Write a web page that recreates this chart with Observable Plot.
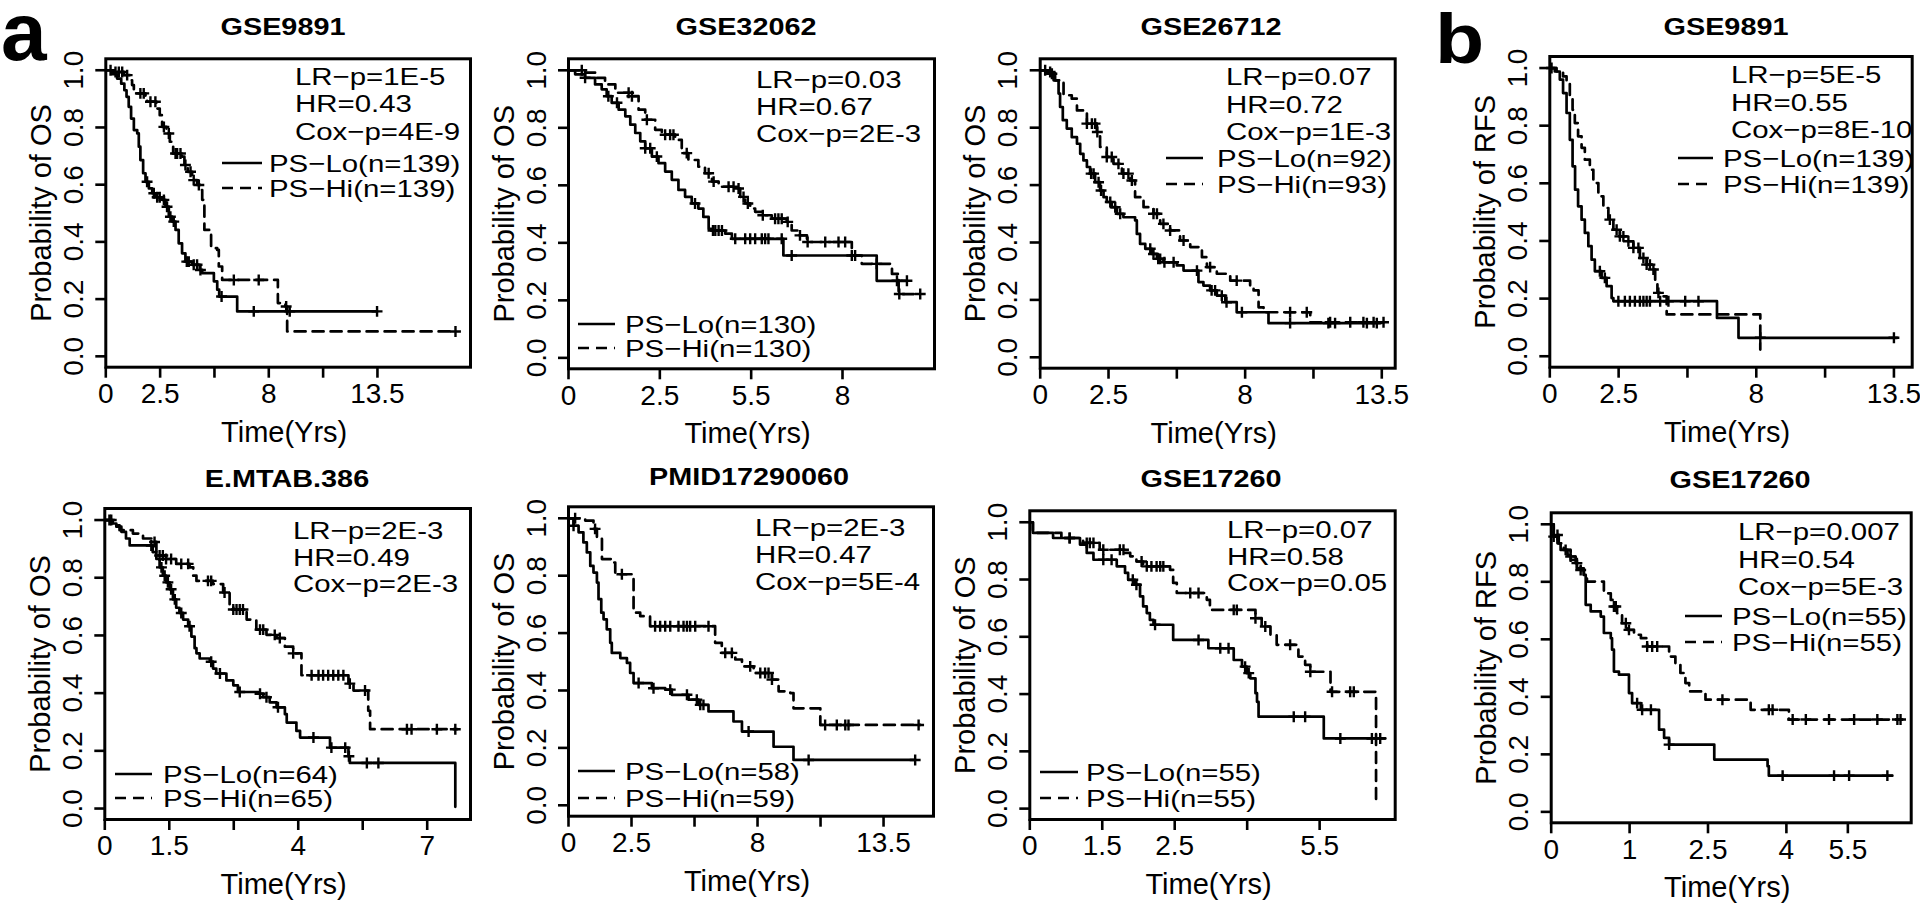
<!DOCTYPE html>
<html><head><meta charset="utf-8">
<script src="https://cdn.jsdelivr.net/npm/d3@7"></script>
<script src="https://cdn.jsdelivr.net/npm/@observablehq/plot@0.6"></script>
<style>
body{margin:0;background:#fff;}
#wrap{position:relative;width:1920px;height:909px;overflow:hidden;font-family:"Liberation Sans",Arial,Helvetica,sans-serif;color:#000;background:#fff;}
.panel{position:absolute;}
.panel svg{overflow:visible;background:transparent;}
.txt{position:absolute;white-space:nowrap;font-size:24.5px;line-height:27px;transform:scaleX(1.2);transform-origin:0 0;}
.ttl{position:absolute;width:400px;text-align:center;white-space:nowrap;font-weight:bold;font-size:24px;line-height:27px;transform:scaleX(1.2);}
.big{position:absolute;font-weight:bold;line-height:0.75;}
.samp{position:absolute;overflow:visible;}
</style></head><body><div id="wrap"></div>
<script>
// ---------- data (times in axis units, survival probability) ----------
const titles = ["GSE9891","GSE32062","GSE26712","GSE9891","E.MTAB.386","PMID17290060","GSE17260","GSE17260"];
const yLabels = ["Probability of OS","Probability of OS","Probability of OS","Probability of RFS","Probability of OS","Probability of OS","Probability of OS","Probability of RFS"];
const statTexts = [
  ["LR\u2212p=1E-5","HR=0.43","Cox\u2212p=4E-9"],
  ["LR\u2212p=0.03","HR=0.67","Cox\u2212p=2E-3"],
  ["LR\u2212p=0.07","HR=0.72","Cox\u2212p=1E-3"],
  ["LR\u2212p=5E-5","HR=0.55","Cox\u2212p=8E-10"],
  ["LR\u2212p=2E-3","HR=0.49","Cox\u2212p=2E-3"],
  ["LR\u2212p=2E-3","HR=0.47","Cox\u2212p=5E-4"],
  ["LR\u2212p=0.07","HR=0.58","Cox\u2212p=0.05"],
  ["LR\u2212p=0.007","HR=0.54","Cox\u2212p=5E-3"]
];
const legendTexts = [
  ["PS\u2212Lo(n=139)","PS\u2212Hi(n=139)"],
  ["PS\u2212Lo(n=130)","PS\u2212Hi(n=130)"],
  ["PS\u2212Lo(n=92)","PS\u2212Hi(n=93)"],
  ["PS\u2212Lo(n=139)","PS\u2212Hi(n=139)"],
  ["PS\u2212Lo(n=64)","PS\u2212Hi(n=65)"],
  ["PS\u2212Lo(n=58)","PS\u2212Hi(n=59)"],
  ["PS\u2212Lo(n=55)","PS\u2212Hi(n=55)"],
  ["PS\u2212Lo(n=55)","PS\u2212Hi(n=55)"]
];
const xTicks = [
  [0,2.75,5.5,8.25,11,13.75],
  [0,2.75,5.5,8.25],
  [0,2.75,5.5,8.25,11,13.75],
  [0,2.75,5.5,8.25,11,13.75],
  [0,1.4,2.8,4.2,5.6,7.0],
  [0,2.75,5.5,8.25,11,13.75],
  [0,1.4,2.8,4.2,5.6],
  [0,1.25,2.5,3.75,4.73]
];
const xTickLabels = [
  ["0","2.5","","8","","13.5"],
  ["0","2.5","5.5","8"],
  ["0","2.5","","8","","13.5"],
  ["0","2.5","","8","","13.5"],
  ["0","1.5","","4","","7"],
  ["0","2.5","","8","","13.5"],
  ["0","1.5","2.5","","5.5"],
  ["0","1","2.5","4","5.5"]
];
const xMax = [18.46, 11.02, 14.29, 14.48, 7.94, 15.93, 7.06, 5.74];

// Panel 1: GSE9891 OS
const p1Lo = [[0,1],[0.32,0.986],[0.57,0.971],[0.78,0.953],[0.94,0.930],[1.05,0.907],[1.16,0.872],[1.28,0.831],[1.42,0.791],[1.59,0.779],[1.67,0.733],[1.75,0.686],[1.89,0.640],[2.01,0.610],[2.18,0.587],[2.35,0.570],[2.56,0.556],[2.85,0.547],[3.02,0.523],[3.19,0.488],[3.36,0.471],[3.53,0.442],[3.69,0.395],[3.86,0.360],[4.03,0.331],[4.37,0.320],[4.76,0.302],[4.88,0.291],[5.47,0.262],[5.64,0.233],[5.74,0.209],[6.65,0.157],[13.73,0.157]];
const p1LoCens = [2.09,2.43,2.60,2.73,2.94,3.10,3.27,3.44,4.10,4.20,4.45,4.62,4.79,5.86,7.49,9.31,13.73];
const p1Hi = [[0,1],[0.40,0.994],[0.91,0.983],[1.25,0.965],[1.33,0.948],[1.42,0.919],[2.01,0.907],[2.09,0.890],[2.56,0.866],[2.73,0.843],[2.85,0.802],[3.07,0.779],[3.24,0.750],[3.41,0.709],[3.86,0.698],[3.98,0.669],[4.15,0.645],[4.37,0.616],[4.62,0.599],[4.79,0.581],[4.88,0.547],[4.99,0.442],[5.26,0.430],[5.33,0.378],[5.64,0.372],[5.72,0.314],[5.89,0.267],[8.71,0.186],[9.09,0.174],[9.18,0.087],[17.70,0.087]];
const p1HiCens = [0.24,0.49,0.66,0.83,1.08,1.75,1.92,2.26,2.51,2.94,3.19,3.53,3.61,3.78,4.03,4.29,4.45,4.71,6.48,7.74,9.13,17.70];

// Panel 2: GSE32062 OS
const p2Lo = [[0,1],[0.20,0.986],[0.50,0.974],[0.80,0.951],[1.00,0.934],[1.15,0.910],[1.30,0.887],[1.51,0.863],[1.71,0.840],[1.86,0.811],[2.01,0.782],[2.16,0.753],[2.31,0.729],[2.51,0.700],[2.71,0.677],[2.91,0.648],[3.11,0.619],[3.31,0.584],[3.51,0.560],[3.71,0.537],[3.91,0.519],[4.06,0.490],[4.22,0.449],[4.32,0.443],[4.72,0.432],[4.92,0.414],[6.47,0.356],[9.28,0.268],[10.19,0.268]];
const p2LoCens = [0.50,1.20,1.46,2.31,2.46,2.66,3.81,4.35,4.42,4.52,4.62,5.02,5.32,5.47,5.62,5.82,5.92,6.02,6.42,6.72,8.53,8.63,9.89,10.19];
const p2Hi = [[0,1],[0.50,0.992],[0.80,0.974],[1.10,0.951],[1.41,0.922],[1.91,0.910],[2.11,0.863],[2.31,0.828],[2.61,0.793],[2.81,0.776],[3.21,0.758],[3.41,0.712],[3.61,0.688],[3.91,0.665],[4.11,0.642],[4.32,0.613],[4.52,0.595],[5.02,0.589],[5.17,0.560],[5.32,0.537],[5.47,0.519],[5.62,0.508],[5.82,0.496],[6.12,0.484],[6.57,0.473],[6.72,0.443],[6.92,0.426],[7.18,0.403],[8.53,0.356],[8.83,0.327],[9.74,0.292],[9.94,0.222],[10.59,0.222]];
const p2HiCens = [0.40,1.81,1.91,2.36,2.91,3.06,3.16,3.56,4.22,4.37,4.82,4.97,5.12,5.27,5.40,5.85,6.22,6.32,6.42,6.60,6.97,7.20,7.73,8.13,8.33,9.28,9.96,10.59];

// Panel 3: GSE26712 OS
const p3Lo = [[0,1],[0.27,0.988],[0.54,0.965],[0.74,0.919],[0.80,0.872],[0.91,0.826],[1.07,0.797],[1.27,0.767],[1.48,0.744],[1.61,0.709],[1.74,0.686],[1.88,0.663],[2.01,0.640],[2.21,0.610],[2.41,0.581],[2.55,0.558],[2.68,0.541],[2.88,0.523],[3.09,0.500],[3.35,0.488],[3.82,0.477],[3.89,0.430],[4.02,0.395],[4.23,0.378],[4.49,0.360],[4.70,0.343],[4.96,0.331],[5.50,0.320],[5.77,0.302],[6.37,0.262],[6.57,0.250],[6.84,0.233],[7.11,0.215],[7.45,0.192],[7.91,0.157],[9.19,0.119],[13.68,0.119]];
const p3LoCens = [0.20,0.47,2.05,2.15,2.35,2.45,2.82,3.02,3.22,4.43,4.56,4.75,4.83,5.00,5.37,6.31,6.90,7.04,7.31,7.50,8.12,10.06,11.60,11.87,13.15,13.55];
const p3Hi = [[0,1],[0.40,0.994],[0.60,0.965],[0.94,0.913],[1.27,0.901],[1.48,0.860],[1.88,0.814],[2.28,0.785],[2.41,0.733],[2.68,0.698],[2.95,0.674],[3.29,0.640],[3.62,0.616],[3.82,0.558],[4.16,0.523],[4.56,0.500],[4.83,0.465],[5.23,0.442],[5.63,0.407],[6.04,0.384],[6.51,0.349],[6.71,0.314],[7.11,0.291],[7.65,0.267],[8.45,0.250],[8.59,0.233],[8.79,0.174],[8.99,0.157],[10.87,0.122],[13.82,0.122]];
const p3HiCens = [0.40,1.88,2.08,2.21,2.30,2.68,2.88,3.15,3.35,3.55,3.69,4.56,4.70,4.96,5.23,5.77,6.84,7.91,10.06,10.73,11.67,12.48,13.01,13.42,13.82];

// Panel 4: GSE9891 RFS
const p4Lo = [[0,1],[0.20,0.988],[0.40,0.960],[0.53,0.913],[0.67,0.844],[0.80,0.751],[0.91,0.659],[1.01,0.578],[1.13,0.520],[1.27,0.474],[1.40,0.428],[1.54,0.382],[1.67,0.335],[1.80,0.295],[2.07,0.272],[2.27,0.243],[2.47,0.202],[2.54,0.191],[6.68,0.133],[7.54,0.064],[13.88,0.064]];
const p4LoCens = [0.07,2.00,2.20,2.74,3.00,3.20,3.40,3.60,3.74,3.87,4.00,4.41,4.74,5.41,5.94,8.41,13.75];
const p4Hi = [[0,1],[0.27,0.988],[0.53,0.971],[0.67,0.948],[0.80,0.902],[0.91,0.855],[1.00,0.809],[1.13,0.763],[1.27,0.723],[1.40,0.682],[1.60,0.647],[1.74,0.601],[1.94,0.555],[2.14,0.514],[2.34,0.474],[2.54,0.439],[2.80,0.416],[3.07,0.399],[3.34,0.376],[3.60,0.341],[3.87,0.318],[4.14,0.301],[4.21,0.254],[4.30,0.220],[4.41,0.208],[4.67,0.145],[8.41,0.023]];
const p4HiCens = [2.40,2.67,2.80,2.94,3.14,3.34,3.54,3.74,3.87,4.00,4.14,4.34];

// Panel 5: E.MTAB.386 OS
const p5Lo = [[0,1],[0.14,0.988],[0.25,0.977],[0.36,0.959],[0.46,0.936],[0.54,0.912],[1.04,0.889],[1.12,0.865],[1.19,0.836],[1.26,0.807],[1.33,0.784],[1.41,0.760],[1.48,0.725],[1.55,0.696],[1.62,0.678],[1.70,0.655],[1.81,0.632],[1.88,0.596],[1.95,0.556],[1.99,0.538],[2.06,0.520],[2.28,0.509],[2.35,0.485],[2.42,0.468],[2.64,0.444],[2.79,0.427],[2.89,0.404],[3.33,0.398],[3.44,0.386],[3.58,0.368],[3.73,0.351],[3.91,0.327],[3.95,0.298],[4.16,0.269],[4.24,0.246],[4.89,0.211],[5.29,0.181],[5.32,0.158],[7.61,0.006]];
const p5LoCens = [0.10,1.01,1.23,1.30,1.37,1.44,1.52,1.66,1.84,2.31,2.50,2.93,3.37,3.51,3.76,4.53,4.92,5.22,5.30,5.69,5.94];
const p5Hi = [[0,1],[0.17,0.982],[0.32,0.965],[0.61,0.953],[0.83,0.936],[1.04,0.924],[1.12,0.889],[1.19,0.877],[1.33,0.865],[1.55,0.848],[1.84,0.836],[1.92,0.807],[1.99,0.789],[2.35,0.778],[2.57,0.749],[2.71,0.702],[2.79,0.690],[3.08,0.655],[3.29,0.620],[3.51,0.602],[3.73,0.591],[3.91,0.561],[4.09,0.538],[4.27,0.462],[5.29,0.433],[5.40,0.409],[5.72,0.339],[5.76,0.275],[7.65,0.275]];
const p5HiCens = [0.14,1.08,1.19,1.26,1.33,1.44,1.66,1.81,2.24,2.31,2.60,2.79,2.86,2.93,3.00,3.37,3.44,3.69,3.80,4.09,4.49,4.64,4.74,4.85,4.96,5.07,5.18,5.32,5.65,6.56,6.66,7.21,7.61];

// Panel 6: PMID17290060 OS
const p6Lo = [[0,1],[0.22,0.974],[0.44,0.951],[0.65,0.916],[0.80,0.881],[0.95,0.834],[1.09,0.811],[1.24,0.776],[1.31,0.718],[1.43,0.671],[1.53,0.648],[1.67,0.613],[1.82,0.566],[1.89,0.531],[2.26,0.513],[2.55,0.496],[2.69,0.461],[2.84,0.426],[3.64,0.408],[4.22,0.403],[4.51,0.385],[5.24,0.368],[5.67,0.350],[6.11,0.327],[7.20,0.292],[7.57,0.257],[8.95,0.204],[9.82,0.158],[15.13,0.158]];
const p6LoCens = [0.22,3.06,3.71,4.44,5.17,5.60,5.75,5.89,7.86,10.48,15.13];
const p6Hi = [[0,1],[0.73,0.992],[1.09,0.963],[1.24,0.928],[1.46,0.858],[1.89,0.846],[2.04,0.805],[2.76,0.799],[2.84,0.671],[3.13,0.659],[3.56,0.624],[6.40,0.566],[6.69,0.531],[7.28,0.508],[7.57,0.484],[8.08,0.461],[8.88,0.438],[9.17,0.397],[9.68,0.391],[9.82,0.338],[10.99,0.280],[15.35,0.280]];
const p6HiCens = [0.29,1.16,2.33,3.78,4.00,4.22,4.44,4.80,5.02,5.17,5.31,5.53,6.11,6.84,7.13,7.93,8.37,8.58,8.73,8.88,11.20,11.71,12.08,12.22,15.28];

// Panel 7: GSE17260 OS
const p7Lo = [[0,1],[0.06,0.963],[0.45,0.945],[0.97,0.922],[1.10,0.893],[1.23,0.869],[1.68,0.846],[1.84,0.823],[1.90,0.799],[2.03,0.782],[2.13,0.741],[2.19,0.706],[2.26,0.683],[2.32,0.659],[2.39,0.642],[2.77,0.589],[3.45,0.560],[3.94,0.519],[4.10,0.496],[4.19,0.473],[4.26,0.455],[4.36,0.403],[4.39,0.373],[4.42,0.321],[5.68,0.245],[6.87,0.245]];
const p7LoCens = [0.77,1.42,1.58,1.99,2.06,2.42,3.26,3.68,3.84,4.16,4.23,5.10,5.32,6.00,6.61,6.77];
const p7Hi = [[0,1],[0.06,0.963],[0.61,0.945],[1.03,0.928],[1.35,0.904],[1.84,0.893],[1.94,0.881],[2.06,0.863],[2.19,0.846],[2.71,0.834],[2.77,0.788],[2.84,0.753],[3.42,0.729],[3.48,0.694],[4.36,0.665],[4.48,0.636],[4.65,0.607],[4.77,0.572],[5.19,0.531],[5.32,0.502],[5.42,0.478],[5.81,0.408],[6.69,0.023]];
const p7HiCens = [0.77,1.10,1.16,1.23,1.42,1.74,1.81,2.16,2.26,2.35,2.45,2.52,2.58,3.10,3.26,3.94,4.00,4.36,4.55,5.03,5.42,5.84,6.19,6.26];

// Panel 8: GSE17260 RFS
const p8Lo = [[0,1],[0.04,0.957],[0.10,0.934],[0.15,0.911],[0.26,0.894],[0.31,0.876],[0.41,0.847],[0.52,0.824],[0.55,0.720],[0.63,0.697],[0.79,0.679],[0.84,0.622],[0.95,0.604],[0.97,0.564],[1.00,0.488],[1.08,0.477],[1.24,0.413],[1.29,0.378],[1.43,0.355],[1.72,0.286],[1.80,0.257],[1.88,0.234],[2.60,0.182],[3.45,0.159],[3.47,0.126],[5.44,0.126]];
const p8LoCens = [0.04,1.37,1.45,1.59,1.88,3.69,4.51,4.75,5.36];
const p8Hi = [[0,1],[0.04,0.963],[0.12,0.934],[0.20,0.911],[0.31,0.888],[0.39,0.865],[0.47,0.841],[0.52,0.818],[0.57,0.801],[0.84,0.760],[0.95,0.737],[1.00,0.714],[1.05,0.691],[1.13,0.656],[1.21,0.633],[1.32,0.616],[1.43,0.604],[1.53,0.575],[1.88,0.540],[1.98,0.517],[2.06,0.483],[2.14,0.448],[2.20,0.419],[2.46,0.390],[3.18,0.355],[3.79,0.321],[5.60,0.321]];
const p8HiCens = [0.10,0.23,0.31,0.41,0.47,1.00,1.03,1.19,1.24,1.53,1.61,1.69,2.73,3.47,3.53,3.85,4.06,4.43,4.83,5.20,5.52,5.57];

const yTicks = [0, 0.2, 0.4, 0.6, 0.8, 1.0];
const curvesLo = [p1Lo,p2Lo,p3Lo,p4Lo,p5Lo,p6Lo,p7Lo,p8Lo];
const censLo = [p1LoCens,p2LoCens,p3LoCens,p4LoCens,p5LoCens,p6LoCens,p7LoCens,p8LoCens];
const curvesHi = [p1Hi,p2Hi,p3Hi,p4Hi,p5Hi,p6Hi,p7Hi,p8Hi];
const censHi = [p1HiCens,p2HiCens,p3HiCens,p4HiCens,p5HiCens,p6HiCens,p7HiCens,p8HiCens];

// ---------- layout (page pixels) ----------
const layout = [
 {x:0,   y:0,   w:478, h:453, box:[105.3,470,58.3,366.7],    title:[283.3,35],   stats:[295,85,27.3],     leg:[221.7,40,269.3,171.7,25]},
 {x:478, y:0,   w:465, h:453, box:[568,934,58.3,368.3],      title:[746.3,35],   stats:[756.3,88.3,26.7], leg:[578,37,624.7,333.3,23.5]},
 {x:943, y:0,   w:477, h:453, box:[1039.7,1394.7,58.3,367.7],title:[1211.3,35],  stats:[1226.3,85,27.5],  leg:[1165.7,37,1217,166.7,26]},
 {x:1420,y:0,   w:500, h:453, box:[1549.3,1911.7,56,366.7],  title:[1725.7,35],  stats:[1730.7,83.3,27.5],leg:[1678.3,35,1723.3,166.7,26.7]},
 {x:0,   y:453, w:478, h:456, box:[104.3,470,508,819],       title:[287.3,486.3],stats:[293.3,539,26.7],  leg:[115,37,162.7,783,24.3]},
 {x:478, y:453, w:465, h:456, box:[568,933,506.3,815.7],     title:[748.7,484.7],stats:[754.7,536.3,26.7],leg:[578,37,624.7,779.7,27.3]},
 {x:943, y:453, w:477, h:456, box:[1029.3,1394.7,510.3,819], title:[1211,486.3], stats:[1227,538,26.7],   leg:[1039.7,38,1086.3,781.3,26]},
 {x:1420,y:453, w:500, h:456, box:[1550.7,1910.7,512.3,822.3],title:[1740,488],  stats:[1738.3,540.3,27.2],leg:[1685,37,1731.7,624.7,26.7]}
];
const DASH = "11,7";
const FONT = '"Liberation Sans", Arial, Helvetica, sans-serif';
const wrap = document.getElementById("wrap");

function survAt(steps, t) {
  let s = steps[0][1];
  for (const [x, y] of steps) { if (x <= t + 1e-9) s = y; else break; }
  return s;
}
function addDiv(cls, left, top, text, extra) {
  const d = document.createElement("div");
  d.className = cls; d.style.left = left + "px"; d.style.top = top + "px";
  d.textContent = text;
  if (extra) Object.assign(d.style, extra);
  wrap.appendChild(d);
  return d;
}

for (let i = 0; i < 8; i++) {
  const L = layout[i];
  const [bl, br, bt, bb] = L.box;
  const labelMap = new Map(xTicks[i].map((t, j) => [t, xTickLabels[i][j]]));
  const loC = censLo[i].map(t => ({t, s: survAt(curvesLo[i], t)}));
  const hiC = censHi[i].map(t => ({t, s: survAt(curvesHi[i], t)}));
  const svg = Plot.plot({
    width: L.w, height: L.h,
    marginLeft: bl - L.x, marginRight: L.x + L.w - br,
    marginTop: bt - L.y, marginBottom: L.y + L.h - bb,
    x: {domain: [0, xMax[i]]},
    y: {domain: [-0.038, 1.04]},
    style: {fontFamily: FONT, fontSize: "28px", color: "#000", background: "transparent", overflow: "visible"},
    marks: [
      Plot.axisX({ticks: xTicks[i], tickFormat: () => "", tickSize: 11, strokeWidth: 2.6, label: null}),
      Plot.axisY({ticks: yTicks, tickFormat: () => "", tickSize: 10, strokeWidth: 2.6, label: null}),
      Plot.text(xTicks[i], {x: d => d, frameAnchor: "bottom", dy: 16, lineAnchor: "top", textAnchor: "middle", text: d => labelMap.get(d), fontSize: 28, fontFamily: FONT}),
      Plot.text(yTicks, {y: d => d, frameAnchor: "left", dx: -23, rotate: -90, textAnchor: "middle", lineAnchor: "bottom", text: d => d.toFixed(1), fontSize: 28, fontFamily: FONT}),
      Plot.text(["Time(Yrs)"], {text: d => d, frameAnchor: "bottom", dy: 54, dx: -4, lineAnchor: "top", textAnchor: "middle", fontSize: 29, fontFamily: FONT}),
      Plot.text([yLabels[i]], {text: d => d, frameAnchor: "left", dx: -55, rotate: -90, textAnchor: "middle", lineAnchor: "bottom", fontSize: 29, fontFamily: FONT}),
      Plot.line(curvesLo[i], {x: d => d[0], y: d => d[1], curve: "step-after", stroke: "#000", strokeWidth: 2.7}),
      Plot.line(curvesHi[i], {x: d => d[0], y: d => d[1], curve: "step-after", stroke: "#000", strokeWidth: 2.7, strokeDasharray: DASH}),
      Plot.dot(loC, {x: "t", y: "s", symbol: "plus", r: 3.6, stroke: "#000", strokeWidth: 2.4}),
      Plot.dot(hiC, {x: "t", y: "s", symbol: "plus", r: 3.6, stroke: "#000", strokeWidth: 2.4}),
      Plot.frame({stroke: "#000", strokeWidth: 3})
    ]
  });
  const holder = document.createElement("div");
  holder.className = "panel";
  holder.style.left = L.x + "px"; holder.style.top = L.y + "px";
  holder.appendChild(svg);
  wrap.appendChild(holder);

  addDiv("ttl", L.title[0] - 200, L.title[1] - 21.8, titles[i]);
  statTexts[i].forEach((s, j) => addDiv("txt", L.stats[0], L.stats[1] + j * L.stats[2] - 22, s));
  const [lx, llen, tx, b0, sp] = L.leg;
  legendTexts[i].forEach((s, j) => {
    const base = b0 + j * sp;
    addDiv("txt", tx, base - 22, s);
    const ns = "http://www.w3.org/2000/svg";
    const sv = document.createElementNS(ns, "svg");
    sv.setAttribute("width", llen); sv.setAttribute("height", 8);
    sv.setAttribute("class", "samp");
    sv.style.left = lx + "px"; sv.style.top = (base - 13) + "px";
    const ln = document.createElementNS(ns, "line");
    ln.setAttribute("x1", 0); ln.setAttribute("x2", llen);
    ln.setAttribute("y1", 4); ln.setAttribute("y2", 4);
    ln.setAttribute("stroke", "#000"); ln.setAttribute("stroke-width", 2.7);
    if (j === 1) ln.setAttribute("stroke-dasharray", DASH);
    sv.appendChild(ln);
    wrap.appendChild(sv);
  });
}
// big panel letters: line-height 0.75em puts the baseline 0.7215em below the box top
addDiv("big", 1, 60 - 0.7215 * 82, "a", {fontSize: "82px"});
addDiv("big", 1435, 63.3 - 0.7215 * 70, "b", {fontSize: "70px", transform: "scaleX(1.15)", transformOrigin: "0 0"});
</script></body></html>
